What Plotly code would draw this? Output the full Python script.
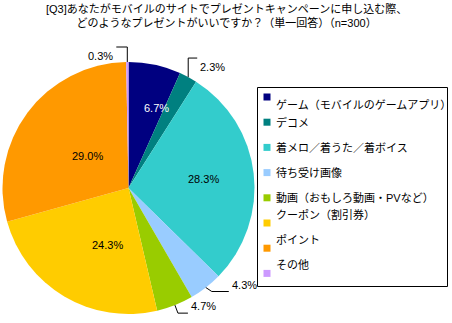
import math
import plotly.graph_objects as go

# ---- data ----
title_lines = ["[Q3]あなたがモバイルのサイトでプレゼントキャンペーンに申し込む際、",
               "どのようなプレゼントがいいですか？（単一回答）（n=300）"]
categories = ["ゲーム（モバイルのゲームアプリ）", "デコメ", "着メロ／着うた／着ボイス",
              "待ち受け画像", "動画（おもしろ動画・PVなど）", "クーポン（割引券）",
              "ポイント", "その他"]
values = [6.7, 2.3, 28.3, 4.3, 4.7, 24.3, 29.0, 0.3]

# ---- style ----
colors = ["#000080", "#008080", "#33CCCC", "#99CCFF", "#99CC00", "#FFCC00", "#FF9900", "#CC99FF"]
W, H = 452, 323
CX, CY, R = 128.5, 188.0, 126.0
FONT = "Liberation Sans, Arial, Noto Sans CJK JP"
# inside labels: (radius factor, angle shift deg, color)
inside_style = {0: (0.71, -3.5, "white"), 2: (0.6, 0, "black"),
                5: (0.6, 0, "black"), 6: (0.53, -8, "black")}
# outside labels: (elbow dx, elbow dy, horizontal length)
outside_style = {7: (0, -15, -11), 1: (0, -19, 9), 3: (6, 4, 17), 4: (3, 8, 10)}


def px(x):
    return x / W


def py(y):
    return 1 - y / H


fig = go.Figure()
fig.add_trace(go.Pie(
    labels=categories, values=values, sort=False, direction="clockwise", rotation=0,
    marker=dict(colors=colors, line=dict(width=0)), textinfo="none", hoverinfo="label+percent",
    showlegend=False,
    domain=dict(x=[px(CX - R), px(CX + R)], y=[py(CY + R), py(CY - R)]),
))

annotations = []
shapes = []
total = sum(values)
cum = 0.0
for i, v in enumerate(values):
    mid = (cum + v / 2) / total * 360.0
    cum += v
    label = f"{v:.1f}%"
    if i in inside_style:
        rf, shift, col = inside_style[i]
        a = math.radians(mid + shift)
        x = CX + R * rf * math.sin(a)
        y = CY - R * rf * math.cos(a)
        annotations.append(dict(x=px(x), y=py(y), xref="paper", yref="paper", text=label,
                                showarrow=False, font=dict(size=11, color=col, family=FONT)))
    elif i in outside_style:
        edx, edy, hl = outside_style[i]
        a = math.radians(mid)
        ex = CX + R * math.sin(a)
        ey = CY - R * math.cos(a)
        bx, by = ex + edx, ey + edy
        tx = bx + hl
        path = f"M {px(ex)},{py(ey)} L {px(bx)},{py(by)} L {px(tx)},{py(by)}"
        shapes.append(dict(type="path", xref="paper", yref="paper", path=path,
                           line=dict(color="black", width=1)))
        annotations.append(dict(x=px(tx + (1 if hl > 0 else -1)), y=py(by + 1), xref="paper", yref="paper",
                                text=label, showarrow=False,
                                xanchor="left" if hl > 0 else "right",
                                font=dict(size=11, color="black", family=FONT)))

# title
annotations.append(dict(x=0.5, y=1.0, xref="paper", yref="paper", yanchor="top",
                        text="<br>".join(title_lines), showarrow=False,
                        font=dict(size=11, color="black", family=FONT)))

# legend (drawn manually)
LX0, LY0, LX1, LY1 = 257.5, 87.5, 447.5, 286.5
shapes.append(dict(type="rect", xref="paper", yref="paper", x0=px(LX0), x1=px(LX1),
                   y0=py(LY1), y1=py(LY0), line=dict(color="black", width=1)))
row0, step = 97.0, 25.2
for i, (c, col) in enumerate(zip(categories, colors)):
    yc = row0 + i * step
    shapes.append(dict(type="rect", xref="paper", yref="paper", x0=px(263.5), x1=px(270.5),
                       y0=py(yc + 3.5), y1=py(yc - 3.5), line=dict(width=0), fillcolor=col))
    annotations.append(dict(x=px(274), y=py(yc), xref="paper", yref="paper", xanchor="left",
                            text=c, showarrow=False,
                            font=dict(size=11, color="black", family=FONT)))

fig.update_layout(width=W, height=H, margin=dict(l=0, r=0, t=0, b=0),
                  paper_bgcolor="white", plot_bgcolor="white",
                  annotations=annotations, shapes=shapes, showlegend=False)
fig.write_html("out.html")
